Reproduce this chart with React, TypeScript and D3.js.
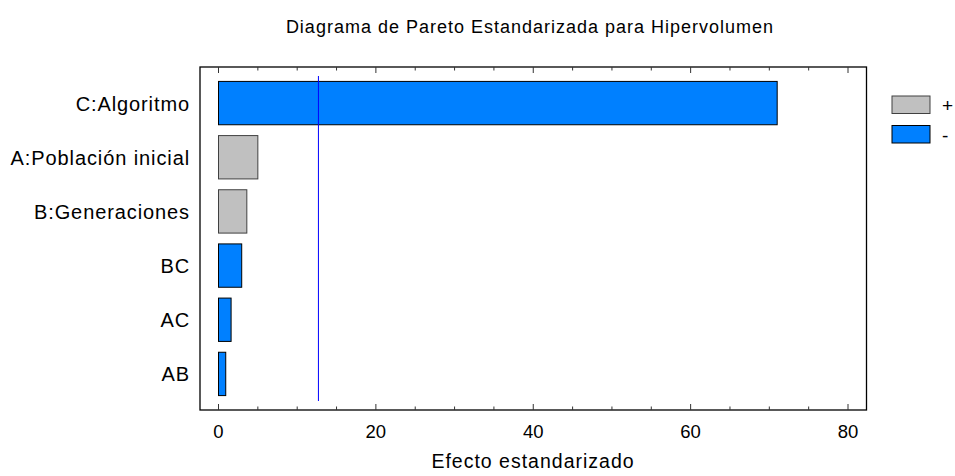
import React from "react";
import * as d3 from "d3";

const categories = ["C:Algoritmo", "A:Población inicial", "B:Generaciones", "BC", "AC", "AB"];
const effects = [71.0, 5.0, 3.6, 2.95, 1.6, 0.92];
const signs = ["-", "+", "+", "-", "-", "-"];
const criticalValue = 12.7;
const xTicks = [0, 20, 40, 60, 80];
const minorTicks = d3.range(0, 85, 5);
const legendItems = ["+", "-"];

const W = 955;
const H = 476;
const frame = { left: 200, right: 866.5, top: 67, bottom: 410 };
const font = "Arial, 'Liberation Sans', sans-serif";
const colorOf = (s: string) => (s === "+" ? "#C0C0C0" : "#0080FF");

export default function App() {
  const x = d3.scaleLinear().domain([0, 80]).range([218.5, 848]);
  const y = d3.scaleBand<string>().domain(categories).range([76, 401]).paddingInner(0.2).paddingOuter(0.1);

  return (
    <svg width={W} height={H} style={{ position: "absolute", left: 0, top: 0, background: "#fff" }}>
      <text x={530} y={32.5} textAnchor="middle" fontFamily={font} fontSize={18} letterSpacing={1} fill="#000">
        Diagrama de Pareto Estandarizada para Hipervolumen
      </text>
      {categories.map((c, i) => (
        <rect
          key={c}
          x={x(0)}
          y={y(c)!}
          width={x(effects[i]) - x(0)}
          height={y.bandwidth()}
          fill={colorOf(signs[i])}
          stroke={signs[i] === "+" ? "#404040" : "#000"}
          strokeWidth={1}
        />
      ))}
      <line x1={x(criticalValue)} x2={x(criticalValue)} y1={76} y2={401} stroke="#0000FF" strokeWidth={1} />
      <rect
        x={frame.left}
        y={frame.top}
        width={frame.right - frame.left}
        height={frame.bottom - frame.top}
        fill="none"
        stroke="#000"
        strokeWidth={1.3}
      />
      {minorTicks.map((t) => {
        const major = t % 20 === 0;
        const len = major ? 6 : 3.5;
        return (
          <g key={t} stroke="#333" strokeWidth={1}>
            <line x1={x(t)} x2={x(t)} y1={frame.bottom} y2={frame.bottom - len} />
            <line x1={x(t)} x2={x(t)} y1={frame.top} y2={frame.top + len} />
          </g>
        );
      })}
      {xTicks.map((t) => (
        <text key={t} x={x(t)} y={437.5} textAnchor="middle" fontFamily={font} fontSize={18.5} fill="#000">
          {t}
        </text>
      ))}
      {categories.map((c) => (
        <text
          key={c}
          x={190}
          y={y(c)! + y.bandwidth() / 2 + 7.5}
          textAnchor="end"
          fontFamily={font}
          fontSize={20}
          letterSpacing={0.9}
          fill="#000"
        >
          {c}
        </text>
      ))}
      <text x={533} y={467.5} textAnchor="middle" fontFamily={font} fontSize={19.5} letterSpacing={1} fill="#000">
        Efecto estandarizado
      </text>
      {legendItems.map((s, i) => (
        <g key={s}>
          <rect
            x={892}
            y={96 + i * 29.5}
            width={38}
            height={17.5}
            fill={colorOf(s)}
            stroke={s === "+" ? "#404040" : "#000"}
            strokeWidth={1}
          />
          <text x={942} y={112 + i * 29.5} fontFamily={font} fontSize={19} fill="#000">
            {s}
          </text>
        </g>
      ))}
    </svg>
  );
}
